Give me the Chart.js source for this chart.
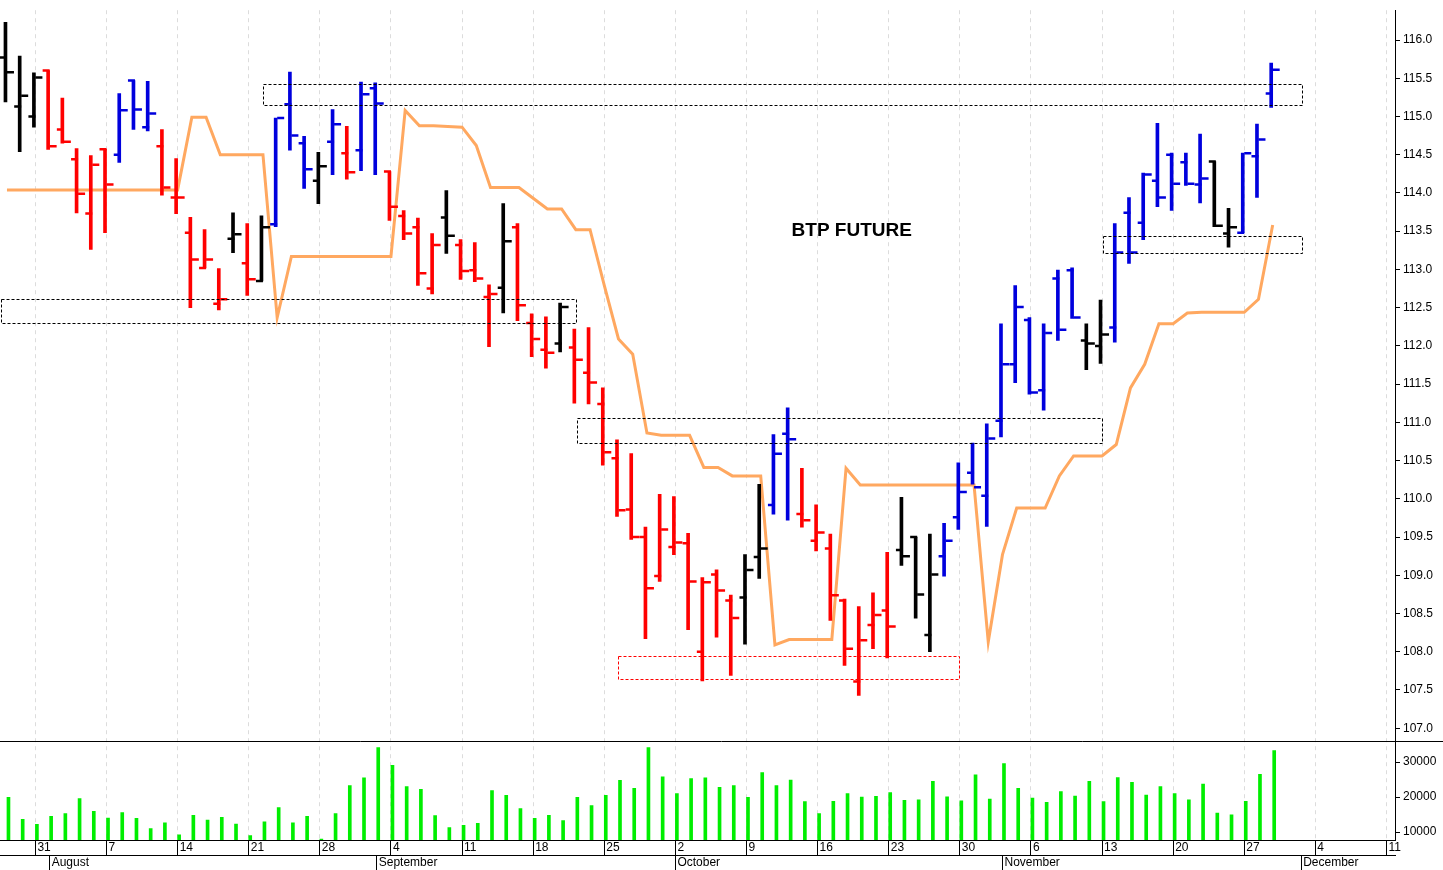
<!DOCTYPE html>
<html><head><meta charset="utf-8">
<script src="https://cdn.jsdelivr.net/npm/chart.js@4.4.0/dist/chart.umd.min.js"></script>
<style>html,body{margin:0;padding:0;background:#fff}#wrap{width:1443px;height:870px}</style>
</head><body><div id="wrap"><canvas id="c" width="1443" height="870"></canvas></div>
<script>
const dates = ["07-27","07-28","07-31",
"08-01","08-02","08-03","08-04","08-07","08-08","08-09","08-10","08-11","08-14","08-15","08-16","08-17","08-18","08-21","08-22","08-23","08-24","08-25","08-28","08-29","08-30","08-31",
"09-01","09-04","09-05","09-06","09-07","09-08","09-11","09-12","09-13","09-14","09-15","09-18","09-19","09-20","09-21","09-22","09-25","09-26","09-27","09-28","09-29",
"10-02","10-03","10-04","10-05","10-06","10-09","10-10","10-11","10-12","10-13","10-16","10-17","10-18","10-19","10-20","10-23","10-24","10-25","10-26","10-27","10-30","10-31",
"11-01","11-02","11-03","11-06","11-07","11-08","11-09","11-10","11-13","11-14","11-15","11-16","11-17","11-20","11-21","11-22","11-23","11-24","11-27","11-28","11-29"];
const openP  = [115.77,115.13,115.00,115.60,114.83,114.44,113.73,114.57,114.50,115.47,114.86,114.61,113.94,113.48,113.02,112.55,113.40,113.08,112.85,113.59,115.16,114.65,114.16,114.67,114.52,114.56,115.37,114.28,113.70,113.55,112.75,113.68,113.32,112.99,112.64,112.76,113.55,112.30,111.95,112.03,111.98,111.65,111.24,110.53,109.86,109.50,108.99,109.37,109.42,108.00,109.01,108.67,108.71,109.24,109.92,110.85,109.80,109.45,109.35,108.67,107.61,108.35,108.54,109.33,109.50,108.22,109.25,109.76,110.34,110.04,111.02,111.76,112.34,111.42,112.88,112.99,112.07,112.00,112.24,113.74,113.61,114.16,114.50,114.40,114.11,114.41,113.47,113.48,114.48,115.30];
const highP  = [116.23,115.79,115.57,115.60,115.24,114.58,114.49,114.57,115.30,115.47,115.46,114.83,114.45,113.68,113.52,113.01,113.74,113.60,113.70,114.98,115.58,114.74,114.53,115.09,114.87,115.45,115.44,114.28,113.77,113.67,113.47,114.03,113.39,113.35,112.80,113.86,113.60,112.42,112.38,112.56,112.22,112.24,111.45,110.77,110.59,109.63,110.06,110.03,109.55,108.97,109.07,108.74,109.27,110.19,110.84,111.19,110.40,109.92,109.54,108.69,108.59,108.77,109.30,110.02,109.50,109.54,109.68,110.47,110.73,110.98,112.29,112.79,112.37,112.29,112.99,113.02,112.29,112.60,113.60,113.94,114.26,114.91,114.52,114.52,114.77,114.41,113.80,114.52,114.90,115.70];
const lowP   = [115.19,114.54,114.86,114.57,114.65,113.74,113.26,113.48,114.40,114.83,114.81,113.97,113.73,112.50,113.02,112.47,113.22,112.66,112.85,113.56,114.56,114.06,113.86,114.24,114.18,114.29,114.24,113.64,113.39,112.79,112.68,113.21,112.87,112.84,111.99,112.43,112.33,111.86,111.71,111.92,111.25,111.24,110.44,109.77,109.47,108.17,108.92,109.27,108.29,107.62,108.19,107.69,108.10,108.96,109.80,109.72,109.63,109.32,108.41,107.82,107.43,108.04,107.92,109.13,108.44,108.00,108.99,109.60,110.19,109.64,110.81,111.52,111.37,111.16,112.07,112.36,111.69,111.77,112.05,113.08,113.39,113.82,113.77,114.10,113.87,113.56,113.29,113.48,113.94,115.12];
const closeP = [115.58,115.27,115.51,114.61,114.67,113.99,114.37,114.11,115.08,115.09,115.04,114.07,113.94,113.13,113.13,112.61,113.46,112.87,113.55,114.98,114.75,114.31,114.35,114.90,114.27,115.29,115.17,113.82,113.47,112.95,113.32,113.44,112.98,112.88,112.68,113.37,112.53,112.09,111.91,112.51,111.82,111.52,110.61,109.85,109.50,108.83,109.60,109.43,108.92,108.91,108.80,108.44,109.07,109.35,110.59,110.78,109.72,109.56,108.74,108.04,108.15,108.48,108.33,109.25,108.75,109.01,109.45,110.09,110.15,110.79,111.76,112.51,111.39,112.17,112.21,112.37,112.03,112.15,113.22,113.22,114.24,113.94,114.12,114.12,114.19,113.57,113.55,114.52,114.70,115.61];
const barColor = "kkk"+"rrrrr"+"bbb"+"rrrrr"+"k"+"r"+"k"+"bbb"+"k"+"b"+"r"+"bb"+"rrrr"+"k"+"rrr"+"k"+"rrr"+"k"+"rrrrrrrrrrrr"+"kk"+"bb"+"rrrrrrr"+"kkk"+"bbbbbbbbbb"+"kk"+"bbbbbbb"+"kk"+"bbb";
const stopLine = [114.04,114.04,114.04,114.04,114.04,114.04,114.04,114.04,114.04,114.04,114.04,114.04,114.04,114.99,114.99,114.50,114.50,114.50,114.50,112.37,113.17,113.17,113.17,113.17,113.17,113.17,113.17,113.17,115.08,114.88,114.88,114.87,114.86,114.62,114.07,114.07,114.07,113.93,113.79,113.79,113.52,113.52,112.79,112.09,111.89,110.86,110.83,110.83,110.83,110.41,110.41,110.30,110.30,110.30,108.09,108.16,108.16,108.16,108.16,110.40,110.18,110.18,110.18,110.18,110.18,110.18,110.18,110.18,110.18,108.13,109.27,109.88,109.88,109.88,110.30,110.56,110.56,110.56,110.71,111.45,111.76,112.29,112.29,112.43,112.44,112.44,112.44,112.44,112.61,113.58];
const volume = [19900,13600,12200,14500,15300,19600,15900,14000,15600,13900,11000,12600,9200,14800,13400,14200,12300,9000,12900,17000,12600,14500,8000,15300,23300,25500,34200,29100,23000,22200,14700,11300,11900,12500,21900,20500,16700,13900,14800,13300,19900,17600,20500,24800,22500,34200,25800,21000,25300,25500,22800,23300,19900,27000,23300,24900,18700,15300,18800,21000,20000,20200,21300,19100,19200,24500,20100,18900,26400,19400,29600,22500,19700,18500,21600,20300,24500,18700,25600,24200,20600,23000,21000,19200,23700,15400,14900,18800,26500,33300];
const mondayIdx = [2,7,12,17,22,27,32,37,42,47,52,57,62,67,72,77,82,87,92,97];
const mondayLabels = ["31","7","14","21","28","4","11","18","25","2","9","16","23","30","6","13","20","27","4","11"];
const monthIdx = [3,26,47,70,91];
const monthLabels = ["August","September","October","November","December"];
const zoneFrom = [18.0,-0.49,40.1,43.0,77.1];
const zoneTo   = [91.06,40.0,77.0,67.0,91.06];
const zoneHigh = [115.42,112.61,111.06,107.94,113.44];
const zoneLow  = [115.14,112.30,110.73,107.64,113.22];
const zoneColor = ["#000","#000","#000","#ff0000","#000"];

const colMap = {k:"#000000", r:"#ff0000", b:"#0000dd"};
const cols = barColor.split("").map(c=>colMap[c]);
const FONT = "Liberation Sans, Arial, sans-serif";

const ohlcTicks = {
  id:"ohlcTicks",
  afterDatasetsDraw(chart){
    const ctx=chart.ctx, x=chart.scales.x, y=chart.scales.y;
    ctx.save(); ctx.lineWidth=2.5;
    for(let i=0;i<openP.length;i++){
      const px=x.getPixelForValue(i);
      ctx.strokeStyle=cols[i];
      ctx.beginPath();
      const yo=y.getPixelForValue(openP[i]), yc=y.getPixelForValue(closeP[i]);
      ctx.moveTo(px-7,yo); ctx.lineTo(px,yo);
      ctx.moveTo(px,yc); ctx.lineTo(px+7,yc);
      ctx.stroke();
    }
    ctx.lineWidth=1; ctx.setLineDash([3,2]);
    for(let k=0;k<zoneFrom.length;k++){
      const x0=Math.max(x.getPixelForValue(zoneFrom[k]),chart.chartArea.left+0.5), x1=x.getPixelForValue(zoneTo[k]);
      const y0=y.getPixelForValue(zoneHigh[k]), y1=y.getPixelForValue(zoneLow[k]);
      ctx.strokeStyle=zoneColor[k];
      ctx.strokeRect(Math.round(x0)+0.5,Math.round(y0)+0.5,Math.round(x1-x0),Math.round(y1-y0));
    }
    ctx.setLineDash([]);
    ctx.fillStyle="#000"; ctx.font="bold 19px "+FONT; ctx.textAlign="center"; ctx.textBaseline="middle";
    ctx.fillText("BTP FUTURE", x.getPixelForValue(59.4), y.getPixelForValue(113.51));
    const y2=chart.scales.y2;
    ctx.strokeStyle="#000"; ctx.lineWidth=1;
    ctx.beginPath(); ctx.moveTo(chart.chartArea.left,Math.round(y2.top)+0.5); ctx.lineTo(chart.width,Math.round(y2.top)+0.5); ctx.stroke();
    ctx.font="12px "+FONT; ctx.textAlign="left"; ctx.textBaseline="middle"; ctx.fillStyle="#000";
    const xa=chart.scales.x, xb=chart.scales.x2;
    mondayIdx.forEach((v,k)=>ctx.fillText(mondayLabels[k], xa.getPixelForValue(v)+2, xa.top+8));
    monthIdx.forEach((v,k)=>ctx.fillText(monthLabels[k], xb.getPixelForValue(v)+2, xb.top+8));
    ctx.restore();
  }
};

const xMin=-0.49, xMax=97.6;
new Chart(document.getElementById("c"),{
  data:{datasets:[
    {type:"line", data:stopLine.map((v,i)=>({x:i,y:v})), borderColor:"#ffa860", borderWidth:3, pointRadius:0, yAxisID:"y", xAxisID:"x", order:2, tension:0},
    {type:"bar", data:highP.map((h,i)=>({x:i,y:[lowP[i],h]})), backgroundColor:cols, barThickness:3, yAxisID:"y", xAxisID:"x", order:1},
    {type:"bar", data:volume.map((v,i)=>({x:i,y:v})), backgroundColor:"#00ee00", barThickness:3, yAxisID:"y2", xAxisID:"x", order:1}
  ]},
  options:{
    responsive:false, animation:false, devicePixelRatio:1,
    layout:{padding:0},
    plugins:{legend:{display:false}, tooltip:{enabled:false}},
    scales:{
      x:{type:"linear", position:"bottom", min:xMin, max:xMax, offset:false,
        afterBuildTicks(a){a.ticks=mondayIdx.map(v=>({value:v}));},
        afterFit(a){a.height=15;},
        grid:{offset:false, color:"#dcdcdc", tickColor:"#000", tickLength:15, tickBorderDash:[]},
        border:{color:"#000", dash:[4,4]},
        ticks:{padding:-14, font:{family:FONT,size:12}, color:"#000", maxRotation:0, callback:()=>""}},
      x2:{type:"linear", position:"bottom", min:xMin, max:xMax, offset:false,
        afterBuildTicks(a){a.ticks=monthIdx.map(v=>({value:v}));},
        afterFit(a){a.height=15;},
        grid:{offset:false, drawOnChartArea:false, tickColor:"#000", tickLength:15},
        border:{color:"#000"},
        ticks:{padding:-14, font:{family:FONT,size:12}, color:"#000", maxRotation:0, callback:()=>""}},
      y:{type:"linear", position:"right", stack:"p", stackWeight:740, min:106.83, max:116.39,
        afterBuildTicks(a){const t=[];for(let v=107;v<=116.001;v+=0.5)t.push({value:Math.round(v*10)/10});a.ticks=t;},
        afterFit(a){a.width=48;},
        grid:{drawOnChartArea:false, tickColor:"#000", tickLength:5},
        border:{color:"#000"},
        ticks:{font:{family:FONT,size:12}, color:"#000", padding:3, callback:v=>Number(v).toFixed(1)}},
      y2:{type:"linear", position:"right", stack:"p", stackWeight:100, min:7714, max:36000,
        afterBuildTicks(a){a.ticks=[10000,15000,20000,25000,30000].map(v=>({value:v}));},
        afterFit(a){a.width=48;},
        grid:{drawOnChartArea:false, tickColor:"#000", tickLength:5},
        border:{color:"#000"},
        ticks:{font:{family:FONT,size:12}, color:"#000", padding:3, callback:v=>String(v)}}
    }
  },
  plugins:[ohlcTicks]
});
</script></body></html>
